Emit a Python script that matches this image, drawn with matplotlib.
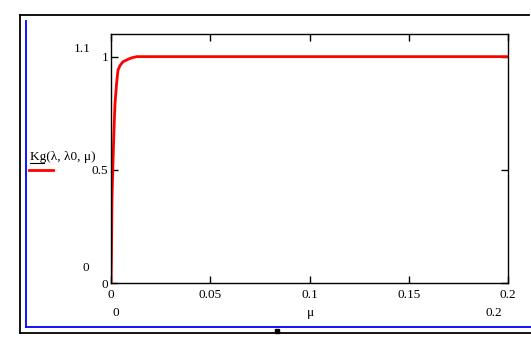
import matplotlib
matplotlib.use('Agg')
import matplotlib.pyplot as plt
from matplotlib.lines import Line2D
from matplotlib.patches import Rectangle

# Kg(lambda, lambda0, mu)
mu = [0, 0.0002, 0.0005, 0.0008, 0.0012, 0.0016, 0.002, 0.0028, 0.0035,
      0.0045, 0.006, 0.0085, 0.0105, 0.013, 0.2]
kg = [0, 0.1, 0.37, 0.47, 0.59, 0.7, 0.79, 0.88, 0.94,
      0.96, 0.977, 0.988, 0.995, 1.0, 1.0]
xticks = [0, 0.05, 0.1, 0.15, 0.2]
yticks = [0, 0.5, 1]

W, H = 531, 339
plt.rcParams['font.family'] = ['Liberation Serif', 'DejaVu Serif']
fig = plt.figure(figsize=(W / 100, H / 100), dpi=100)

def fx(px):
    return px / W

def fy(py):
    return 1 - py / H

# plot area
l, r, t, b = 111, 508, 34, 283
ax = fig.add_axes([fx(l), fy(b), (r - l) / W, (b - t) / H])
ax.plot(mu, kg, color='#ff0000', linewidth=2)
ax.set_xlim(0, 0.2)
ax.set_ylim(0, 1.1)
ax.set_xticks(xticks)
ax.set_xticklabels(['0', '0.05', '0.1', '0.15', '0.2'])
ax.set_yticks(yticks)
ax.set_yticklabels(['0', '0.5', '1'])
ax.tick_params(direction='in', length=5, width=1, top=True, right=True,
               labelsize=9.5)
ax.tick_params(axis='y', pad=2)
ax.tick_params(axis='x', pad=4)
for s in ax.spines.values():
    s.set_linewidth(1.0)

# Mathcad frames
fig.add_artist(Line2D([fx(19.5), fx(19.5)], [fy(15), fy(333)], color='k', lw=1.3))
fig.add_artist(Line2D([fx(19.5), fx(528.5)], [fy(15), fy(15)], color='k', lw=1.3))
fig.add_artist(Line2D([fx(19.5), fx(531)], [fy(333), fy(333)], color='k', lw=1.3))
fig.add_artist(Line2D([fx(26), fx(26)], [fy(21), fy(327)], color='#0000ff', lw=1.3))
fig.add_artist(Line2D([fx(26), fx(531)], [fy(327), fy(327)], color='#0000ff', lw=1.3))
fig.add_artist(Rectangle((fx(275), fy(333)), 4 / W, 4 / H, color='k'))

# limit labels
fs = 9.5
fig.text(fx(82), fy(49), '1.1', ha='center', va='center', fontsize=fs)
fig.text(fx(86), fy(268), '0', ha='center', va='center', fontsize=fs)
fig.text(fx(116), fy(313), '0', ha='center', va='center', fontsize=fs)
fig.text(fx(494), fy(313), '0.2', ha='center', va='center', fontsize=fs)
fig.text(fx(310), fy(313), 'μ', ha='center', va='center', fontsize=fs)

# trace legend
fig.text(fx(30), fy(157), 'Kg(λ, λ0, μ)', ha='left', va='center', fontsize=fs)
fig.add_artist(Line2D([fx(30), fx(44)], [fy(163), fy(163)], color='k', lw=0.8))
fig.add_artist(Line2D([fx(29), fx(53)], [fy(170), fy(170)], color='#ff0000', lw=2))

fig.savefig('out.png', dpi=100)
